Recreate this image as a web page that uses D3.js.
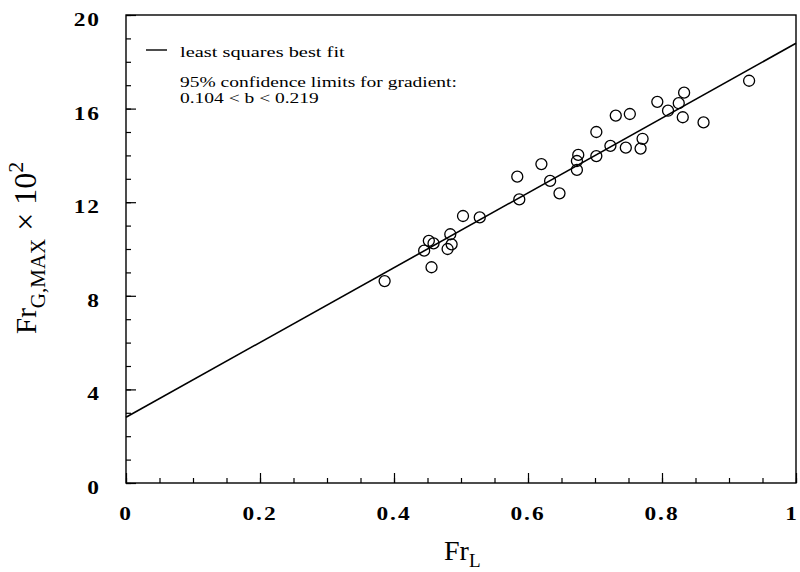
<!DOCTYPE html>
<html lang="en">
  <head>
    <meta charset="UTF-8" />
    <title>Fr G,MAX vs Fr L</title>
    <script src="https://cdn.jsdelivr.net/npm/d3@7"></script>
    <style>
      body { margin: 0; background: #fff; }
      svg text { font-family: "Liberation Serif", "DejaVu Serif", serif; }
      .tlab { font-size: 18px; font-weight: bold; letter-spacing: 1.5px; }
    </style>
  </head>
  <body>
    <div id="chart"></div>
    <script>
      // data
      const frL = [0.386, 0.445, 0.452, 0.459, 0.456, 0.480, 0.484, 0.486, 0.503, 0.528,
        0.584, 0.587, 0.620, 0.633, 0.647, 0.675, 0.673, 0.673, 0.702, 0.702,
        0.723, 0.746, 0.771, 0.768, 0.731, 0.752, 0.793, 0.809, 0.825, 0.833,
        0.831, 0.862, 0.930];
      const frG = [8.63, 9.93, 10.35, 10.24, 9.22, 10.0, 10.63, 10.20, 11.41, 11.35,
        13.09, 12.12, 13.63, 12.91, 12.38, 14.02, 13.76, 13.38, 15.0, 13.97,
        14.41, 14.33, 14.71, 14.29, 15.70, 15.77, 16.29, 15.91, 16.23, 16.68,
        15.63, 15.41, 17.19];
      const fitIntercept = 2.81;
      const fitSlope = 15.98;
      const xTicks = [0, 0.2, 0.4, 0.6, 0.8, 1];
      const xTickLabels = ["0", "0.2", "0.4", "0.6", "0.8", "1"];
      const yTicks = [0, 4, 8, 12, 16, 20];
      const yTickLabels = ["0", "4", "8", "12", "16", "20"];
      const legendLines = ["95% confidence limits for gradient:", "0.104 < b < 0.219"];

      const margin = { top: 15, right: 4, bottom: 89, left: 126 },
        width = 800 - margin.left - margin.right,
        height = 572 - margin.top - margin.bottom;

      const svg = d3
        .select("#chart")
        .append("svg")
        .attr("width", 800)
        .attr("height", 572);

      const g = svg
        .append("g")
        .attr("transform", "translate(" + margin.left + "," + margin.top + ")");

      const x = d3.scaleLinear().domain([0, 1]).range([0, width]);
      const y = d3.scaleLinear().domain([0, 20]).range([height, 0]);

      // frame
      g.append("rect")
        .attr("width", width)
        .attr("height", height)
        .attr("fill", "none")
        .attr("stroke", "#000")
        .attr("stroke-width", 1.4);

      // minor ticks (inward)
      const minorX = d3.range(0, 1.0001, 0.05);
      const minorY = d3.range(0, 20.0001, 1);
      g.append("g")
        .attr("transform", "translate(0," + height + ")")
        .call(d3.axisBottom(x).tickValues(minorX).tickSize(-5).tickFormat(""));
      g.append("g")
        .call(d3.axisLeft(y).tickValues(minorY).tickSize(-5).tickFormat(""));

      // major ticks
      g.append("g")
        .attr("transform", "translate(0," + height + ")")
        .call(d3.axisBottom(x).tickValues(xTicks).tickSize(-10).tickFormat(""));
      g.append("g")
        .call(d3.axisLeft(y).tickValues(yTicks).tickSize(-10).tickFormat(""));

      svg.selectAll(".domain").attr("stroke", "none");
      svg.selectAll(".tick line").attr("stroke", "#000").attr("stroke-width", 1.2);

      // tick labels, wide bold serif like the print
      g.selectAll(".xlab")
        .data(xTicks)
        .enter()
        .append("text")
        .attr("class", "tlab xlab")
        .attr("text-anchor", "middle")
        .attr("transform", (d) =>
          "translate(" + Math.min(x(d), width - 4) + "," + (height + 37) + ") scale(1.3,1)")
        .text((d, i) => xTickLabels[i]);

      g.selectAll(".ylab")
        .data(yTicks)
        .enter()
        .append("text")
        .attr("class", "tlab ylab")
        .attr("text-anchor", "end")
        .attr("transform", (d) => "translate(-25," + (y(d) + 11) + ") scale(1.3,1)")
        .text((d, i) => yTickLabels[i]);

      // least squares line
      g.append("line")
        .attr("x1", x(0))
        .attr("y1", y(fitIntercept))
        .attr("x2", x(1))
        .attr("y2", y(fitIntercept + fitSlope))
        .attr("stroke", "#000")
        .attr("stroke-width", 1.6);

      // points
      g.selectAll(".pt")
        .data(frL)
        .enter()
        .append("circle")
        .attr("class", "pt")
        .attr("cx", (d) => x(d))
        .attr("cy", (d, i) => y(frG[i]))
        .attr("r", 5.5)
        .attr("fill", "none")
        .attr("stroke", "#000")
        .attr("stroke-width", 1.3);

      // legend
      g.append("line")
        .attr("x1", 20).attr("x2", 41)
        .attr("y1", 35).attr("y2", 35)
        .attr("stroke", "#000").attr("stroke-width", 1.4);
      g.append("text")
        .attr("transform", "translate(54,42) scale(1.36,1)")
        .attr("font-size", 15)
        .text("least squares best fit");
      g.selectAll(".leg")
        .data(legendLines)
        .enter()
        .append("text")
        .attr("class", "leg")
        .attr("transform", (d, i) => "translate(54," + (72 + i * 16) + ") scale(1.3,1)")
        .attr("font-size", 15)
        .text((d) => d);

      // axis titles
      const xt = svg.append("text").attr("x", 444).attr("y", 560).attr("font-size", 28);
      xt.append("tspan").text("Fr");
      xt.append("tspan").attr("dy", 7).attr("font-size", 19).text("L");

      const yt = svg
        .append("text")
        .attr("transform", "translate(36,334) rotate(-90)")
        .attr("font-size", 29);
      yt.append("tspan").text("Fr");
      yt.append("tspan").attr("dy", 9).attr("font-size", 21).text("G,MAX");
      yt.append("tspan").attr("dy", -9).attr("font-size", 32).text(" \u00d7 10");
      yt.append("tspan").attr("dy", -13).attr("font-size", 22).text("2");
    </script>
  </body>
</html>
